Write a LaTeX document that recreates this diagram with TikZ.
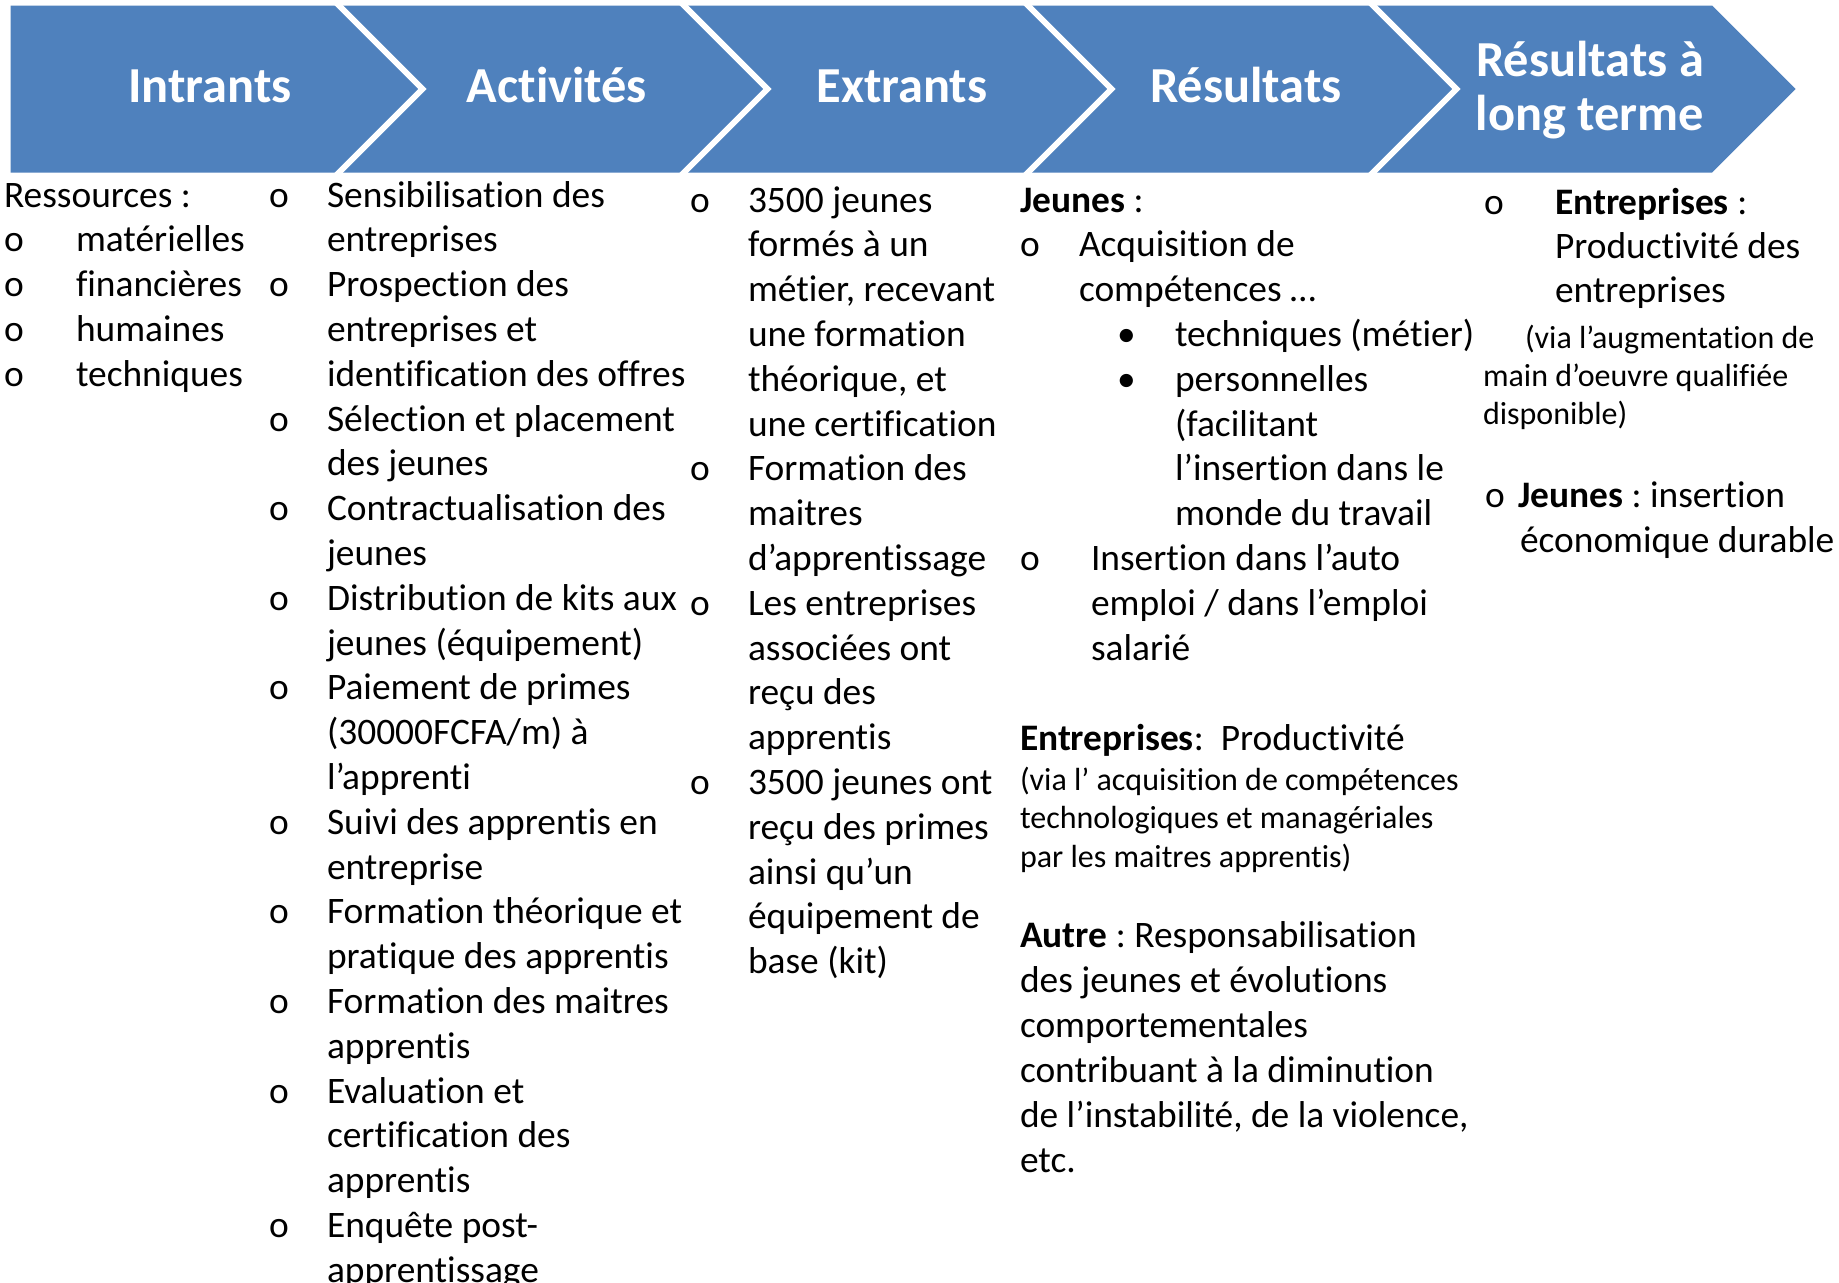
\documentclass[tikz,border=0pt]{standalone}
\usepackage{fontspec}
\setmainfont{Carlito}[Ligatures=NoCommon]
\definecolor{chevblue}{HTML}{4F81BD}
\frenchspacing
\begin{document}
\begin{tikzpicture}[x=0.5pt,y=-0.5pt,
  txt/.style={inner sep=0pt, outer sep=0pt, anchor=base west, font=\fontsize{18.7}{22}\selectfont},
  smalltxt/.style={txt, font=\fontsize{16}{19}\selectfont},
  head/.style={inner sep=0pt, outer sep=0pt, anchor=base, text=white, font=\fontsize{25.2}{29}\selectfont\bfseries},
  chevshape/.style={fill=chevblue, draw=none},
  gapline/.style={draw=white, line width=2.9pt, miter limit=10}]
\useasboundingbox (0,0) rectangle (1839,1282);
\fill[white] (0,0) rectangle (1839,1282);
\clip (0,0) rectangle (1839,1282);

% ---- chevrons ----
\path[chevshape] (10.5,5.5) -- (339,5.5) -- (422.5,89) -- (339,172.5) -- (10.5,172.5) -- cycle;
\path[chevshape] (339,5.5) -- (684,5.5) -- (767.5,89) -- (684,172.5) -- (339,172.5) -- (422.5,89) -- cycle;
\path[chevshape] (684,5.5) -- (1028,5.5) -- (1111.5,89) -- (1028,172.5) -- (684,172.5) -- (767.5,89) -- cycle;
\path[chevshape] (1028,5.5) -- (1373,5.5) -- (1456.5,89) -- (1373,172.5) -- (1028,172.5) -- (1111.5,89) -- cycle;
\path[chevshape] (1373,5.5) -- (1712,5.5) -- (1795.5,89) -- (1712,172.5) -- (1373,172.5) -- (1456.5,89) -- cycle;
\foreach \r in {339,684,1028,1373}{
  \draw[gapline] (\r-6,-0.5) -- (\r+83.5,89) -- (\r-6,178.5);
}

% ---- headers ----
\node[head] (h1) at (210,102) {Intrants};
\node[head] (h2) at (557,102) {Activités};
\node[head] (h3) at (902,102) {Extrants};
\node[head] (h4) at (1246,102) {Résultats};
\node[head] (h5a) at (1590,76.5) {Résultats à};
\node[head] (h5b) at (1590,130.5) {long terme};

\begin{scope}[shift={(1,2)}]
% ---- column 1 : Intrants ----
\node[txt] (ress) at (3,205) {Ressources :};
\foreach \t [count=\i] in {matérielles,financières,humaines,techniques}{
  \node[txt] (c1o\i) at (3,{205+44.8*\i}) {o};
  \node[txt] (c1t\i) at (75,{205+44.8*\i}) {\t};
}

% ---- column 2 : Activités ----
\foreach \k in {0,2,5,7,9,11,14,16,18,20,23}{
  \node[txt] (c2o\k) at (268,{205+44.8*\k}) {o};
}
\foreach \t [count=\i from 0] in {Sensibilisation des,entreprises,Prospection des,entreprises et,identification des offres,Sélection et placement,des jeunes,Contractualisation des,jeunes,Distribution de kits aux,jeunes (équipement),Paiement de primes,(30000FCFA/m) à,l’apprenti,Suivi des apprentis en,entreprise,Formation théorique et,pratique des apprentis,Formation des maitres,apprentis,Evaluation et,certification des,apprentis,Enquête post-,apprentissage}{
  \node[txt] (c2t\i) at (326,{205+44.8*\i}) {\t};
}

% ---- column 3 : Extrants ----
\foreach \k in {0,6,9,13}{
  \node[txt] (c3o\k) at (689,{210+44.8*\k}) {o};
}
\foreach \t [count=\i from 0] in {3500 jeunes,formés à un,{métier, recevant},une formation,{théorique, et},une certification,Formation des,maitres,d’apprentissage,Les entreprises,associées ont,reçu des,apprentis,3500 jeunes ont,reçu des primes,ainsi qu’un,équipement de,base (kit)}{
  \node[txt] (c3t\i) at (747,{210+44.8*\i}) {\t};
}

% ---- column 4 : Résultats ----
\node[txt] (c4j) at (1019,210) {\textbf{Jeunes} :};
\node[txt] (c4o1) at (1019,254.8) {o};
\node[txt] (c4a1) at (1078,254.8) {Acquisition de};
\node[txt] (c4a2) at (1078,299.6) {compétences …};
\node[txt] (c4b1) at (1116,344.4) {•};
\node[txt] (c4t1) at (1174,344.4) {techniques (métier)};
\node[txt] (c4b2) at (1116,389.2) {•};
\node[txt] (c4t2) at (1174,389.2) {personnelles};
\node[txt] (c4t3) at (1174,434) {(facilitant};
\node[txt] (c4t4) at (1174,478.8) {l’insertion dans le};
\node[txt] (c4t5) at (1174,523.6) {monde du travail};
\node[txt] (c4o2) at (1019,568.4) {o};
\node[txt] (c4i1) at (1090,568.4) {Insertion dans l’auto};
\node[txt] (c4i2) at (1090,613.2) {emploi / dans l’emploi};
\node[txt] (c4i3) at (1090,658) {salarié};
\node[txt] (c4e) at (1019,748) {\textbf{Entreprises}:\ \ Productivité};
\node[smalltxt] (c4s1) at (1019,788) {(via l’ acquisition de compétences};
\node[smalltxt] (c4s2) at (1019,826.5) {technologiques et managériales};
\node[smalltxt] (c4s3) at (1019,865) {par les maitres apprentis)};
\node[txt] (c4r0) at (1019,945) {\textbf{Autre} : Responsabilisation};
\foreach \t [count=\i] in {des jeunes et évolutions,comportementales,contribuant à la diminution,{de l’instabilité, de la violence,},etc.}{
  \node[txt] (c4r\i) at (1019,{945+45*\i}) {\t};
}

% ---- column 5 : Résultats à long terme ----
\node[txt] (c5o1) at (1483,212) {o};
\node[txt] (c5e1) at (1554,212) {\textbf{Entreprises} :};
\node[txt] (c5e2) at (1554,256) {Productivité des};
\node[txt] (c5e3) at (1554,300) {entreprises};
\node[smalltxt] (c5s1) at (1524,346.5) {(via l’augmentation de};
\node[smalltxt] (c5s2) at (1482,384.5) {main d’oeuvre qualifiée};
\node[smalltxt] (c5s3) at (1482,422.5) {disponible)};
\node[txt] (c5o2) at (1484,505) {o};
\node[txt] (c5j1) at (1517,505) {\textbf{Jeunes} : insertion};
\node[txt] (c5j2) at (1519,550) {économique durable};
\end{scope}
\end{tikzpicture}
\end{document}
